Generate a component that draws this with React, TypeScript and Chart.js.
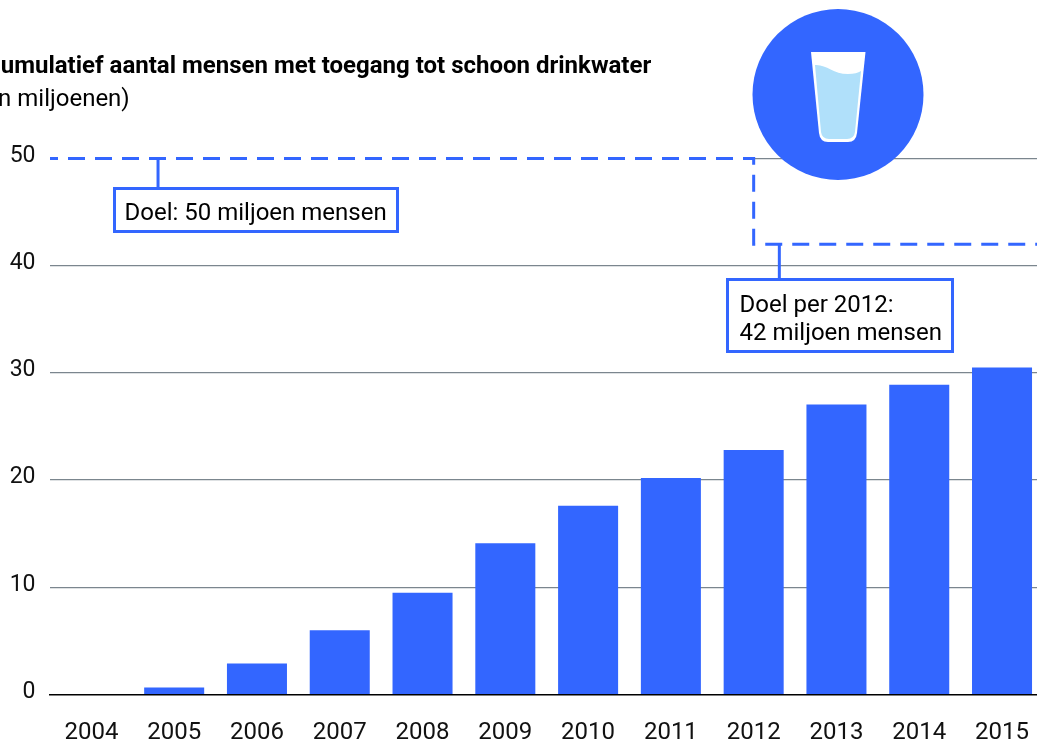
import React, { useEffect, useRef } from "react";
import { Chart, registerables } from "chart.js";

Chart.register(...registerables);

const categories = ["2004","2005","2006","2007","2008","2009","2010","2011","2012","2013","2014","2015"];
const people = [0, 0.65, 2.9, 6.0, 9.5, 14.1, 17.6, 20.2, 22.8, 27.05, 28.9, 30.5];
const goalSteps = [
  { x: -0.5, y: 50 }, { x: 8, y: 50 }, { x: 8, y: 42 }, { x: 11.5, y: 42 },
];
const goalMask = [{ x: -0.5, y: 50 }, { x: 8, y: 50 }];
const yTicks = [0, 10, 20, 30, 40, 50];
const titleBold = "Cumulatief aantal mensen met toegang tot schoon drinkwater";
const titleSub = "(in miljoenen)";
const note1 = ["Doel: 50 miljoen mensen"];
const note2 = ["Doel per 2012:", "42 miljoen mensen"];

const BLUE = "#3366ff";
const FONT = "Roboto";

const decor = {
  id: "decor",
  afterDraw(chart: any) {
    const c = chart.ctx as CanvasRenderingContext2D;
    const y = chart.scales.y;
    const gx = chart.scales.gx;
    c.save();
    // titles
    c.fillStyle = "#000";
    c.textAlign = "left";
    c.textBaseline = "alphabetic";
    c.font = `700 24px ${FONT}`;
    c.fillText(titleBold, -15, 73);
    c.font = `400 24px ${FONT}`;
    c.fillText(titleSub, -16, 106);

    // callouts
    const box = (bx: number, by: number, bw: number, bh: number, lineX: number, lineTop: number, lines: string[]) => {
      c.strokeStyle = BLUE;
      c.lineWidth = 3;
      c.beginPath();
      c.moveTo(lineX, lineTop);
      c.lineTo(lineX, by);
      c.stroke();
      c.fillStyle = "#fff";
      c.fillRect(bx, by, bw, bh);
      c.strokeRect(bx, by, bw, bh);
      c.fillStyle = "#000";
      c.font = `400 24px ${FONT}`;
      lines.forEach((t, i) => c.fillText(t, bx + 10 + (lines.length > 1 ? 2 : 0), by + (lines.length > 1 ? 32 + i * 28 : 31)));
    };
    box(114.5, 188.5, 283, 43, gx.getPixelForValue(0.805), y.getPixelForValue(50), note1);
    box(727.5, 279.5, 225, 72, gx.getPixelForValue(8.31), y.getPixelForValue(42), note2);

    // badge
    c.fillStyle = BLUE;
    c.beginPath();
    c.arc(838, 94.5, 85.5, 0, Math.PI * 2);
    c.fill();
    // glass
    c.fillStyle = "#fff";
    c.beginPath();
    c.moveTo(811, 52);
    c.lineTo(865.5, 52);
    c.lineTo(857, 133);
    c.quadraticCurveTo(856, 142, 848, 142);
    c.lineTo(828, 142);
    c.quadraticCurveTo(820, 142, 819, 133);
    c.closePath();
    c.fill();
    // water
    c.fillStyle = "#b0e0fa";
    c.beginPath();
    c.moveTo(815, 65);
    c.bezierCurveTo(826, 64, 833, 74, 848, 74);
    c.bezierCurveTo(854, 74, 858, 73, 861, 71);
    c.lineTo(855, 132);
    c.quadraticCurveTo(854, 139, 847, 139);
    c.lineTo(829, 139);
    c.quadraticCurveTo(822, 139, 821, 132);
    c.closePath();
    c.fill();
    c.restore();
  },
};

export default function App() {
  const ref = useRef<HTMLCanvasElement>(null);
  useEffect(() => {
    const chart = new Chart(ref.current!, {
      type: "bar",
      data: {
        labels: categories,
        datasets: [
          {
            type: "line", data: goalSteps as any, xAxisID: "gx", borderColor: BLUE, borderWidth: 3,
            borderDash: [17, 10], borderDashOffset: 9, pointRadius: 0, tension: 0, fill: false, clip: false, order: 1,
          } as any,
          {
            type: "line", data: goalMask as any, xAxisID: "gx", borderColor: "#fff", borderWidth: 3,
            pointRadius: 0, tension: 0, fill: false, clip: false, order: 2,
          } as any,
          {
            type: "bar", data: people, xAxisID: "x", backgroundColor: BLUE, borderWidth: 0, grouped: false,
            categoryPercentage: 1, barPercentage: 0.725, order: 3,
          } as any,
        ],
      },
      options: {
        responsive: false,
        animation: false,
        layout: { padding: { top: 158.5, left: 0, right: 0, bottom: 0 } },
        plugins: { legend: { display: false }, title: { display: false }, tooltip: { enabled: false } },
        scales: {
          x: {
            grid: { display: false },
            border: { color: "#000", width: 1.5 },
            ticks: { color: "#111", font: { family: FONT, size: 24 }, padding: 16, maxRotation: 0, autoSkip: false },
            afterFit(s: any) { s.height = 45.5; },
          },
          gx: { type: "linear", display: false, offset: false, min: -0.5, max: 11.5 },
          y: {
            min: 0,
            max: 50,
            afterBuildTicks(s: any) { s.ticks = yTicks.map((v) => ({ value: v })); },
            grid: {
              color: (ctx: any) => (ctx.tick && ctx.tick.value === 0 ? "rgba(0,0,0,0)" : "#7b868e"),
              lineWidth: 1.2, drawTicks: false,
            },
            border: { display: false },
            ticks: { color: "#111", font: { family: FONT, size: 23 }, padding: 14.5, labelOffset: -2.5 },
            afterFit(s: any) { s.width = 50; },
          },
        },
      },
      plugins: [decor],
    } as any);
    return () => chart.destroy();
  }, []);
  return (
    <div style={{ position: "absolute", left: 0, top: 0, width: 1037, height: 740, overflow: "hidden", background: "#fff" }}>
      <canvas ref={ref} width={1045} height={740} style={{ display: "block", width: 1045, height: 740 }} />
    </div>
  );
}
